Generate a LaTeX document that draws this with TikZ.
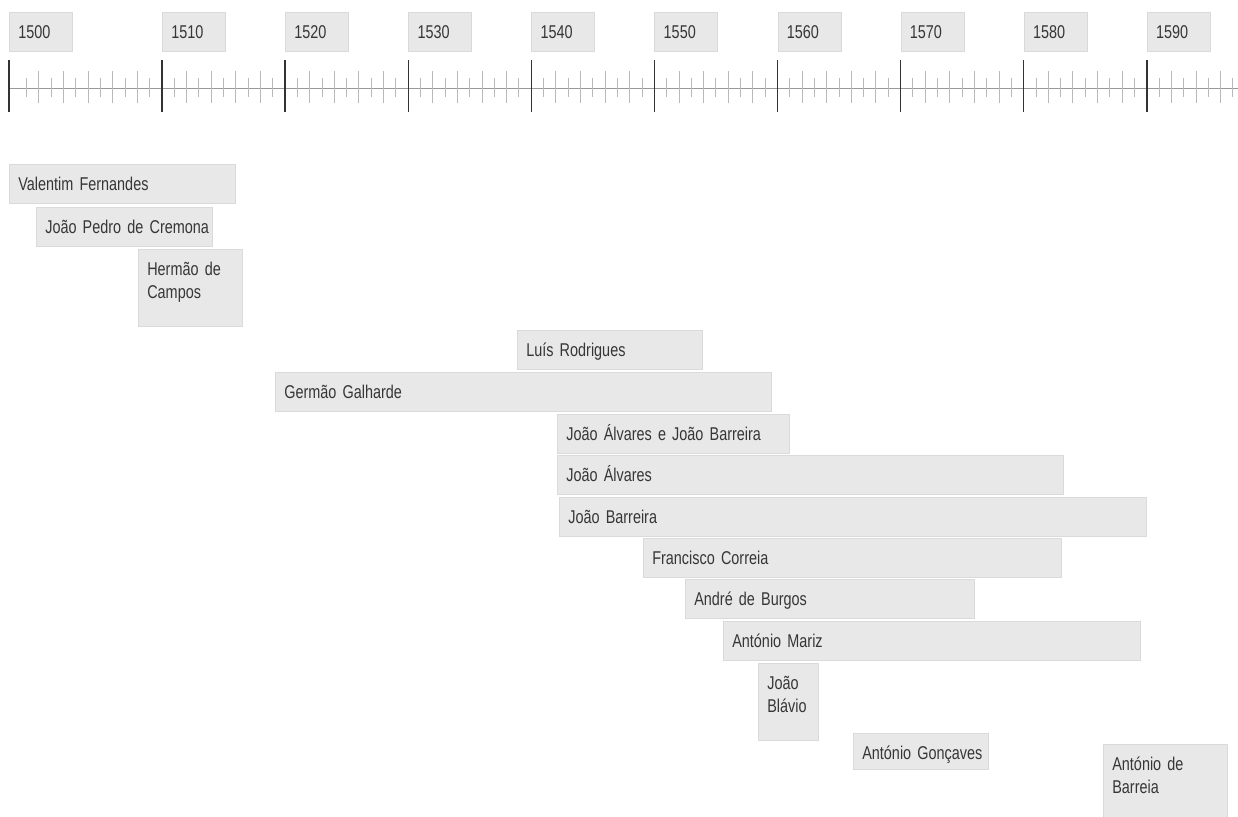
\documentclass[tikz,border=0pt]{standalone}
\usepackage{fontspec}
\setmainfont{Liberation Sans}[FakeStretch=0.78]
\usepackage{tikz}
\usetikzlibrary{positioning}

\definecolor{boxfill}{HTML}{E8E8E8}
\definecolor{boxline}{HTML}{DADADA}
\definecolor{textgray}{HTML}{363636}
\hyphenpenalty=10000

\begin{document}
\begin{tikzpicture}[x=1pt, y=-1pt,
every node/.style={font={\fontsize{18.5}{23}\selectfont\spaceskip=3.2pt\relax}, text=textgray},
printer box/.style={
anchor=north west,
fill=boxfill,
draw=boxline,
line width=0.6pt,
inner xsep=9pt,
inner ysep=0pt,
align=left,
text height=26pt,
text depth=13pt,
text width=#1
},
tall box/.style={
text depth=51pt
},
major tick/.style={draw=black!80, line width=1.4pt},
minor tick/.style={draw=gray!55, line width=1pt},
axis/.style={draw=gray!80, line width=1pt}
]

\useasboundingbox (0,0) rectangle (1238,816);

% time axis
\coordinate (axis start) at (9,88);
\coordinate (axis end) at (1238,88);
\draw[axis] (axis start) -- (axis end);

\foreach \yr in {1499,...,1597}{
\pgfmathsetmacro{\xx}{162+(\yr-1510)*12.31}
\pgfmathtruncatemacro{\ismajor}{(mod(\yr,10)==0)&&(\yr>1505)}
\ifnum\ismajor=0
\ifodd\yr
\draw[minor tick] (\xx,78) -- (\xx,97);
\else
\draw[minor tick] (\xx,71) -- (\xx,103);
\fi
\fi
}

\node[printer box=45pt] (y1500) at (9,12) {1500};
\draw[major tick] (9,60) -- (9,112);
\foreach \yr in {1510,1520,...,1590}{
\pgfmathsetmacro{\xx}{162+(\yr-1510)*12.31}
\draw[major tick] (\xx,60) -- (\xx,112);
\node[printer box=45pt] (y\yr) at (\xx,12) {\yr};
}

% printers
\node[printer box=208pt] (vf) at (9,164) {Valentim~Fernandes};
\node[printer box=158pt] (jpc) at (36,207) {João~Pedro~de~Cremona};
\node[printer box=86pt, tall box] (hc) at (138,249) {Hermão de\\Campos};

\node[printer box=167pt] (lr) at (517,330) {Luís~Rodrigues};
\node[printer box=478pt] (gg) at (275,372) {Germão~Galharde};
\node[printer box=214pt] (jaejb) at (557,414) {João~Álvares~e~João~Barreira};
\node[printer box=488pt] (ja) at (557,455) {João~Álvares};
\node[printer box=569pt] (jb) at (559,497) {João~Barreira};
\node[printer box=400pt] (fc) at (643,538) {Francisco~Correia};
\node[printer box=271pt] (adb) at (685,579) {André~de~Burgos};
\node[printer box=399pt] (am) at (723,621) {António~Mariz};
\node[printer box=42pt, tall box] (jbl) at (758,663) {João\\Blávio};
\node[printer box=117pt, text depth=10pt] (ag) at (853,733) {António~Gonçaves};
\node[printer box=106pt, tall box] (abr) at (1103,744) {António de\\Barreia};

\end{tikzpicture}
\end{document}
